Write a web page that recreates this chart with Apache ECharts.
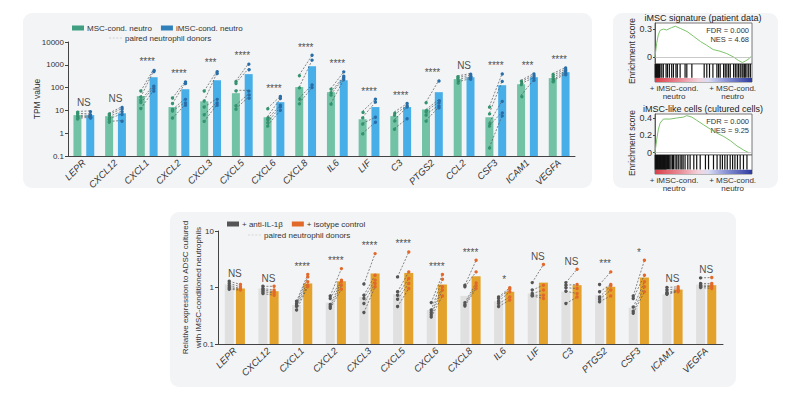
<!DOCTYPE html>
<html><head><meta charset="utf-8">
<script src="https://cdn.jsdelivr.net/npm/echarts@6/dist/echarts.min.js"></script>
<style>html,body{margin:0;padding:0;background:#fff}#c{width:800px;height:400px}</style>
</head><body><div id="c"></div>
<script>
// ---------- Top-left: TPM values ----------
const genesTop = ['LEPR','CXCL12','CXCL1','CXCL2','CXCL3','CXCL5','CXCL6','CXCL8','IL6','LIF','C3','PTGS2','CCL2','CSF3','ICAM1','VEGFA'];
const mscMean  = [6.2, 5.6, 42, 14, 25, 57, 5, 105, 63, 4.1, 5.6, 11, 235, 5, 140, 260];
const imscMean = [6.2, 7.5, 285, 85, 210, 390, 23, 870, 210, 14, 14, 63, 285, 127, 285, 475];
const sigTop   = ['NS','NS','****','****','***','****','****','****','****','****','****','****','NS','****','***','****'];
const mscDonors = [
  [9, 7.5, 6, 5.2, 4.5], [7.6, 6.6, 5.4, 4.3, 3.3], [71, 39, 28, 22, 12], [35, 20, 11, 9.4, 4.6],
  [71, 26, 14, 6.4, 3.3], [196, 161, 76, 17, 12], [12.7, 5.4, 4.3, 3.1, 2.2], [360, 105, 35, 21],
  [91, 64, 50, 20], [9.2, 5, 2.7, 1], [8.5, 6.6, 3.9, 1.6], [23, 11, 9.3, 6.6, 3.6],
  [325, 275, 225, 178], [15, 7.6, 3, 2.2, 0.24], [210, 178, 150, 46], [415, 340, 275, 225, 200]
];
const imscDonors = [
  [9.5, 7, 6.2, 5.5, 5], [14.5, 12, 9.3, 7.1, 3.6], [645, 545, 127, 100, 76], [190, 162, 33, 23, 18],
  [545, 443, 33, 23, 18], [1150, 690, 76, 54, 39], [41, 33, 17, 14, 10], [2600, 1600, 130, 100],
  [490, 316, 268, 225], [31, 23, 5, 3], [20, 16, 14, 4.3], [210, 30, 23, 17, 14],
  [415, 350, 295, 250], [415, 196, 26, 8.4, 6], [415, 350, 275, 225], [760, 645, 545, 460, 390]
];
const topRange = [0.1, 10000];

// ---------- Bottom: relative expression ----------
const genesBot = ['LEPR','CXCL12','CXCL1','CXCL2','CXCL3','CXCL5','CXCL6','CXCL8','IL6','LIF','C3','PTGS2','CSF3','ICAM1','VEGFA'];
const antiMean = [1.13, 0.96, 0.49, 0.54, 0.68, 0.76, 0.40, 0.71, 0.57, 0.78, 0.84, 0.73, 0.44, 0.76, 1.13];
const isoMean  = [0.96, 0.86, 1.18, 1.29, 1.77, 1.81, 1.13, 1.58, 0.84, 1.22, 1.10, 1.03, 1.50, 0.92, 1.10];
const sigBot   = ['NS','NS','****','****','****','****','****','****','*','NS','NS','***','*','NS','NS'];
const antiDonors = [
  [1.29, 1.18, 1.07, 0.99, 0.93], [1.05, 0.96, 0.90, 0.84, 0.78], [0.57, 0.52, 0.49, 0.46, 0.40],
  [0.71, 0.64, 0.50, 0.46, 0.43], [1.15, 0.73, 0.64, 0.52, 0.36], [1.54, 0.84, 0.73, 0.62, 0.46],
  [0.54, 0.40, 0.36, 0.33, 0.30], [1.10, 1.03, 0.54, 0.50, 0.47], [0.68, 0.64, 0.57, 0.52, 0.46],
  [1.22, 0.90, 0.78, 0.73, 0.71], [1.22, 1.10, 0.99, 0.86, 0.52], [1.13, 0.84, 0.68, 0.62, 0.56],
  [0.71, 0.64, 0.45, 0.38, 0.35], [1.0, 0.90, 0.82, 0.78, 0.76], [1.48, 1.18, 1.10, 1.05, 1.0]
];
const isoDonors = [
  [1.13, 1.03, 0.96, 0.93, 0.90], [1.05, 0.90, 0.85, 0.80, 0.73], [1.70, 1.54, 1.26, 1.10, 1.03],
  [2.16, 1.35, 1.26, 1.10, 0.93], [3.98, 1.65, 1.35, 1.18, 1.03], [4.25, 1.89, 1.44, 1.18, 0.96],
  [1.70, 1.40, 1.03, 0.90, 0.71], [3.03, 1.89, 1.20, 1.07, 0.96], [0.99, 0.93, 0.84, 0.68, 0.60],
  [2.55, 1.10, 0.90, 0.73, 0.64], [2.11, 1.13, 0.96, 0.78, 0.68], [1.89, 1.13, 1.07, 0.90, 0.71],
  [3.03, 1.65, 1.26, 1.03, 0.84], [1.03, 0.96, 0.90, 0.87, 0.84], [1.50, 1.18, 1.10, 1.03, 0.96]
];
const botRange = [0.1, 10];

// ---------- GSEA ----------
const es1X = [0, 0.017, 0.034, 0.052, 0.086, 0.12, 0.17, 0.21, 0.26, 0.33, 0.40, 0.47, 0.53, 0.60, 0.67, 0.74, 0.81, 0.86, 0.90, 0.93, 0.97, 0.99];
const es1Y = [0, 0.146, 0.238, 0.285, 0.30, 0.29, 0.315, 0.33, 0.307, 0.274, 0.22, 0.165, 0.128, 0.08, 0.062, 0.037, 0, -0.037, -0.059, -0.044, -0.018, 0.007];
const es2X = [0, 0.017, 0.034, 0.052, 0.086, 0.155, 0.224, 0.293, 0.328, 0.38, 0.43, 0.50, 0.57, 0.64, 0.71, 0.78, 0.845, 0.914, 0.966];
const es2Y = [0, 0.148, 0.264, 0.34, 0.388, 0.388, 0.40, 0.41, 0.427, 0.41, 0.373, 0.322, 0.272, 0.225, 0.186, 0.136, 0.078, 0.031, 0];
const hits1 = [0.003,0.01,0.016,0.022,0.028,0.034,0.04,0.046,0.052,0.07,0.086,0.114,0.128,0.148,0.172,0.19,0.216,0.23,0.259,0.31,0.328,0.38,0.507,0.534,0.562,0.597,0.638,0.655,0.672,0.707,0.724,0.741,0.759,0.776,0.81,0.828,0.845,0.862,0.879,0.897,0.907,0.921,0.931,0.948,0.966,0.983];
const hits2 = [0.003,0.009,0.015,0.021,0.027,0.033,0.039,0.045,0.051,0.057,0.063,0.069,0.075,0.081,0.087,0.093,0.099,0.105,0.111,0.117,0.128,0.14,0.152,0.165,0.18,0.19,0.207,0.224,0.24,0.259,0.276,0.29,0.31,0.338,0.362,0.4,0.43,0.466,0.52,0.552,0.603,0.64,0.672,0.695,0.72,0.745,0.775,0.8,0.824,0.85,0.878,0.912,0.948];
const gsea1 = {title:'iMSC signature (patient data)', fdr:'FDR = 0.000', nes:'NES = 4.68'};
const gsea2 = {title:'iMSC-like cells (cultured cells)', fdr:'FDR = 0.000', nes:'NES = 9.25'};

// ---------- helpers ----------
const FONT = 'Liberation Sans, Arial, sans-serif';
function barSeries(name, xi, yi, vals, off, w, color, base) {
  return {
    type: 'custom', name, xAxisIndex: xi, yAxisIndex: yi, z: 2, silent: true, itemStyle: {color},
    data: vals.map((v, i) => [i, v]), encode: {x: 0, y: 1},
    renderItem(params, api) {
      const t = api.coord([api.value(0), api.value(1)]);
      const b = api.coord([api.value(0), base]);
      return {type: 'rect', shape: {x: t[0] + off - w / 2, y: t[1], width: w, height: b[1] - t[1]}, style: {fill: color}};
    }
  };
}
function pairSeries(xi, yi, L, R, off, cL, cR) {
  const data = [];
  L.forEach((arr, i) => arr.forEach((v, j) => { if (R[i][j] != null) data.push([i, v, R[i][j]]); }));
  return {
    type: 'custom', name: 'paired neutrophil donors', xAxisIndex: xi, yAxisIndex: yi, z: 5, silent: true,
    itemStyle: {color: '#999'}, data, encode: {x: 0, y: [1, 2]},
    renderItem(params, api) {
      const i = api.value(0);
      const p1 = api.coord([i, api.value(1)]);
      const p2 = api.coord([i, api.value(2)]);
      const a = [p1[0] - off, p1[1]], b = [p2[0] + off, p2[1]];
      return {type: 'group', children: [
        {type: 'line', shape: {x1: a[0], y1: a[1], x2: b[0], y2: b[1]}, style: {stroke: '#555', lineWidth: 0.7, lineDash: [2, 1.5]}},
        {type: 'circle', shape: {cx: a[0], cy: a[1], r: 1.7}, style: {fill: cL}},
        {type: 'circle', shape: {cx: b[0], cy: b[1], r: 1.7}, style: {fill: cR}}
      ]};
    }
  };
}
function sigSeries(xi, yi, sig, L, R, Lm, Rm) {
  return {
    type: 'scatter', xAxisIndex: xi, yAxisIndex: yi, symbolSize: 0.01, silent: true, z: 6,
    data: sig.map((s, i) => [i, Math.max(...L[i], ...R[i], Lm[i], Rm[i])]),
    label: {show: true, position: 'top', distance: 3, formatter: p => sig[p.dataIndex],
      fontSize: 10, color: '#222', fontFamily: FONT}
  };
}
function barcodeSeries(xi, yi, hits, gradStops) {
  return {
    type: 'custom', xAxisIndex: xi, yAxisIndex: yi, silent: true,
    data: hits.map(h => [h]), encode: {x: 0},
    renderItem(params, api) {
      const p1 = api.coord([api.value(0), 0.24]);
      const p2 = api.coord([api.value(0), 1]);
      return {type: 'line', shape: {x1: p1[0], y1: p1[1], x2: p2[0], y2: p2[1]}, style: {stroke: '#111', lineWidth: 1.2}};
    },
    markArea: {silent: true, data: [[
      {xAxis: 0, yAxis: 0, itemStyle: {color: new echarts.graphic.LinearGradient(0, 0, 1, 0, gradStops), opacity: 1}},
      {xAxis: 1, yAxis: 0.22}
    ]]}
  };
}
const stripStops = [
  {offset: 0, color: '#d9404a'}, {offset: 0.25, color: '#e88a95'}, {offset: 0.45, color: '#f3d2dc'},
  {offset: 0.55, color: '#dcdcf2'}, {offset: 0.72, color: '#8f98d8'}, {offset: 1, color: '#2d3a9e'}
];
const logFmt = v => String(+(+v).toPrecision(3));
const dashIcon = 'path://M0,0h3v1h-3zM5,0h3v1h-3zM10,0h3v1h-3zM15,0h3v1h-3z';
const axisCol = '#444';

function esAxes(gi, min, max, ticks) {
  return {
    x: {gridIndex: gi, type: 'value', min: 0, max: 1, show: false},
    y: {gridIndex: gi, type: 'value', min, max, splitLine: {show: false},
      axisLine: {show: true, lineStyle: {color: axisCol, width: 0.8}},
      axisTick: {show: true, customValues: ticks, length: 2, lineStyle: {color: axisCol}},
      axisLabel: {customValues: ticks, fontSize: 9, color: '#333', margin: 3, fontFamily: FONT, formatter: v => String(+(+v).toFixed(2))}}
  };
}
function bcAxes(gi) {
  return {
    x: {gridIndex: gi, type: 'value', min: 0, max: 1, axisLine: {show: false}, axisTick: {show: false}, splitLine: {show: false},
      axisLabel: {customValues: [0.196, 0.8], fontSize: 8, lineHeight: 8, color: '#333', margin: 2, fontFamily: FONT,
        formatter: v => v < 0.5 ? '+ iMSC-cond.\nneutro' : '+ MSC-cond.\nneutro'}},
    y: {gridIndex: gi, type: 'value', min: 0, max: 1, show: false}
  };
}
const es1 = esAxes(2, -0.075, 0.365, [0, 0.3]);
const bc1 = bcAxes(3);
const es2 = esAxes(4, -0.026, 0.446, [0, 0.2, 0.4]);
const bc2 = bcAxes(5);
const gsGrid = {show: true, backgroundColor: '#fff', borderColor: '#555', borderWidth: 0.8};
const legTxt = {fontSize: 8, color: '#333', padding: [0, 0, 0, -2]};

const chart = echarts.init(document.getElementById('c'), null, {renderer: 'svg'});
chart.setOption({
  animation: false,
  textStyle: {fontFamily: FONT},
  graphic: {elements: [
    {type: 'rect', z: -100, shape: {x: 23, y: 13, width: 569, height: 175, r: 9}, style: {fill: '#f3f4f6'}},
    {type: 'rect', z: -100, shape: {x: 613, y: 13, width: 165, height: 175, r: 9}, style: {fill: '#f3f4f6'}},
    {type: 'rect', z: -100, shape: {x: 170, y: 212, width: 566, height: 175, r: 9}, style: {fill: '#f3f4f6'}},
    {type: 'text', x: 703, y: 22, style: {text: gsea1.title, align: 'center', verticalAlign: 'bottom', fontSize: 9, fill: '#222', fontFamily: FONT}},
    {type: 'text', x: 749, y: 26, style: {text: gsea1.fdr + '\n' + gsea1.nes, align: 'right', fontSize: 7.5, lineHeight: 9, fill: '#333', fontFamily: FONT}},
    {type: 'text', x: 632, y: 51, rotation: Math.PI / 2, style: {text: 'Enrichment score', align: 'center', verticalAlign: 'middle', fontSize: 8.5, fill: '#333', fontFamily: FONT}},
    {type: 'text', x: 703, y: 113, style: {text: gsea2.title, align: 'center', verticalAlign: 'bottom', fontSize: 9, fill: '#222', fontFamily: FONT}},
    {type: 'text', x: 749, y: 117, style: {text: gsea2.fdr + '\n' + gsea2.nes, align: 'right', fontSize: 7.5, lineHeight: 9, fill: '#333', fontFamily: FONT}},
    {type: 'text', x: 632, y: 143, rotation: Math.PI / 2, style: {text: 'Enrichment score', align: 'center', verticalAlign: 'middle', fontSize: 8.5, fill: '#333', fontFamily: FONT}}
  ]},
  legend: [
    {data: [{name: 'MSC-cond. neutro', itemStyle: {color: '#3f9f80'}}, {name: 'iMSC-cond. neutro', itemStyle: {color: '#2f7fba'}}],
      left: 72, top: 24, padding: 0, icon: 'rect', itemWidth: 12, itemHeight: 5, itemGap: 9, selectedMode: false, textStyle: legTxt},
    {data: [{name: 'paired neutrophil donors', icon: dashIcon, itemStyle: {color: '#aaa'}}],
      left: 109, top: 34, padding: 0, itemWidth: 13, itemHeight: 1.2, selectedMode: false, textStyle: legTxt},
    {data: [{name: '+ anti-IL-1β', itemStyle: {color: '#555'}}, {name: '+ isotype control', itemStyle: {color: '#e3692b'}}],
      left: 227, top: 220, padding: 0, icon: 'rect', itemWidth: 12, itemHeight: 5, itemGap: 9, selectedMode: false, textStyle: legTxt},
    {data: [{name: 'paired neutrophil donors', icon: dashIcon, itemStyle: {color: '#bbb'}}],
      left: 248, top: 231, padding: 0, itemWidth: 13, itemHeight: 1.2, selectedMode: false, textStyle: legTxt}
  ],
  grid: [
    {left: 68, top: 42, width: 507, height: 114},
    {left: 218, top: 231, width: 505, height: 113},
    Object.assign({left: 655, top: 23, width: 97, height: 41}, gsGrid),
    Object.assign({left: 655, top: 64, width: 97, height: 18}, gsGrid),
    Object.assign({left: 655, top: 114, width: 97, height: 41}, gsGrid),
    Object.assign({left: 655, top: 155, width: 97, height: 19}, gsGrid)
  ],
  xAxis: [
    {gridIndex: 0, type: 'category', data: genesTop,
      axisLine: {lineStyle: {color: axisCol, width: 1}}, axisTick: {alignWithLabel: true, length: 3, lineStyle: {color: axisCol}},
      axisLabel: {rotate: 45, interval: 0, fontStyle: 'italic', fontSize: 9.5, color: '#333', margin: 5}},
    {gridIndex: 1, type: 'category', data: genesBot,
      axisLine: {lineStyle: {color: axisCol, width: 1}}, axisTick: {alignWithLabel: true, length: 3, lineStyle: {color: axisCol}},
      axisLabel: {rotate: 45, interval: 0, fontStyle: 'italic', fontSize: 9.5, color: '#333', margin: 5}},
    es1.x, bc1.x, es2.x, bc2.x
  ],
  yAxis: [
    {gridIndex: 0, type: 'log', logBase: 10, min: topRange[0], max: topRange[1], splitLine: {show: false},
      axisLine: {show: true, lineStyle: {color: axisCol}}, axisTick: {show: true, length: 3, lineStyle: {color: axisCol}},
      axisLabel: {fontSize: 8, color: '#333', margin: 4, formatter: logFmt},
      name: 'TPM value', nameLocation: 'middle', nameGap: 27, nameMoveOverlap: false, nameTextStyle: {fontSize: 8.5, color: '#333'}},
    {gridIndex: 1, type: 'log', logBase: 10, min: botRange[0], max: botRange[1], splitLine: {show: false},
      axisLine: {show: true, lineStyle: {color: axisCol}}, axisTick: {show: true, length: 3, lineStyle: {color: axisCol}},
      axisLabel: {fontSize: 8, color: '#333', margin: 4, formatter: logFmt},
      name: 'Relative expression to ADSC cultured\nwith iMSC-conditioned neutrophils', nameLocation: 'middle', nameGap: 13, nameMoveOverlap: false,
      nameTextStyle: {fontSize: 8, lineHeight: 13, color: '#333'}},
    es1.y, bc1.y, es2.y, bc2.y
  ],
  series: [
    barSeries('MSC-cond. neutro', 0, 0, mscMean, -6.4, 8, '#72c2a6', topRange[0]),
    barSeries('iMSC-cond. neutro', 0, 0, imscMean, 6.4, 8, '#47aee8', topRange[0]),
    pairSeries(0, 0, mscDonors, imscDonors, 6.4, '#33946f', '#2a6ea8'),
    sigSeries(0, 0, sigTop, mscDonors, imscDonors, mscMean, imscMean),
    barSeries('+ anti-IL-1β', 1, 1, antiMean, -5.6, 9, '#e0e0e0', botRange[0]),
    barSeries('+ isotype control', 1, 1, isoMean, 5.6, 9, '#e3a22b', botRange[0]),
    pairSeries(1, 1, antiDonors, isoDonors, 5.6, '#555', '#e3692b'),
    sigSeries(1, 1, sigBot, antiDonors, isoDonors, antiMean, isoMean),
    {type: 'line', xAxisIndex: 2, yAxisIndex: 2, data: es1X.map((x, i) => [x, es1Y[i]]), symbol: 'none', silent: true,
      lineStyle: {color: '#7dc36b', width: 1},
      markLine: {silent: true, symbol: 'none', label: {show: false}, data: [{yAxis: 0}], lineStyle: {color: '#bbb', type: 'solid', width: 0.8}}},
    barcodeSeries(3, 3, hits1, stripStops),
    {type: 'line', xAxisIndex: 4, yAxisIndex: 4, data: es2X.map((x, i) => [x, es2Y[i]]), symbol: 'none', silent: true,
      lineStyle: {color: '#7dc36b', width: 1},
      markLine: {silent: true, symbol: 'none', label: {show: false}, data: [{yAxis: 0}], lineStyle: {color: '#bbb', type: 'solid', width: 0.8}}},
    barcodeSeries(5, 5, hits2, stripStops)
  ]
});
</script></body></html>
